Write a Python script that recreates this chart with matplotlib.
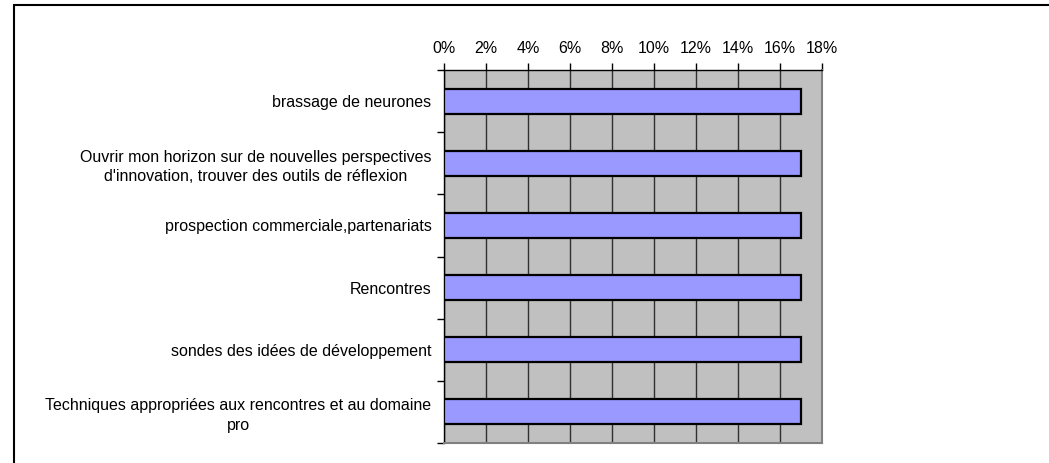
import matplotlib.pyplot as plt
import matplotlib.patches as mpatches
import numpy as np
from matplotlib.ticker import FuncFormatter, FixedLocator

plt.rcParams['font.family'] = ['Liberation Sans', 'DejaVu Sans']

# data
categories = [
    "brassage de neurones",
    "Ouvrir mon horizon sur de nouvelles perspectives\nd'innovation, trouver des outils de réflexion",
    "prospection commerciale,partenariats",
    "Rencontres",
    "sondes des idées de développement",
    "Techniques appropriées aux rencontres et au domaine\npro",
]
values = [0.17, 0.17, 0.17, 0.17, 0.17, 0.17]
x_ticks = [0, 0.02, 0.04, 0.06, 0.08, 0.10, 0.12, 0.14, 0.16, 0.18]

W, H = 1049, 463
fig = plt.figure(figsize=(W / 100, H / 100), dpi=100)
ax = fig.add_axes([444 / W, 1 - 443 / H, (822 - 444) / W, (443 - 70) / H])
ax.set_facecolor('#c0c0c0')

y = np.arange(len(categories))
ax.barh(y, values, height=0.4, color='#9999ff', edgecolor='black', linewidth=1.6, zorder=3)

ax.set_xlim(0, 0.18)
ax.set_ylim(len(categories) - 0.5, -0.5)

ax.xaxis.tick_top()
ax.xaxis.set_major_locator(FixedLocator(x_ticks))
ax.xaxis.set_major_formatter(FuncFormatter(lambda v, p: f"{round(v * 100)}%"))
ax.grid(axis='x', color='#303030', linewidth=1.0, zorder=1)

ax.set_yticks(y)
ax.set_yticklabels(categories, multialignment='center', linespacing=1.35)
ax.yaxis.set_minor_locator(FixedLocator(np.arange(-0.5, len(categories), 1)))
ax.tick_params(axis='y', which='major', length=0, pad=9)
ax.tick_params(axis='y', which='minor', length=5, width=1, direction='out')
ax.tick_params(axis='x', length=5, width=1, direction='out', pad=5, labelsize=11.5)
ax.tick_params(axis='y', labelsize=11.5)

for side in ['top', 'left']:
    ax.spines[side].set_color('black')
    ax.spines[side].set_linewidth(1.0)
for side in ['right', 'bottom']:
    ax.spines[side].set_color('#808080')
    ax.spines[side].set_linewidth(1.5)

# outer chart frame (cut at right/bottom)
frame = mpatches.Rectangle((14 / W, -0.1), 1.2, 1 - 5 / H + 0.1, transform=fig.transFigure,
                           fill=False, edgecolor='black', linewidth=1.5)
fig.patches.append(frame)

fig.savefig('out.png', dpi=100)
